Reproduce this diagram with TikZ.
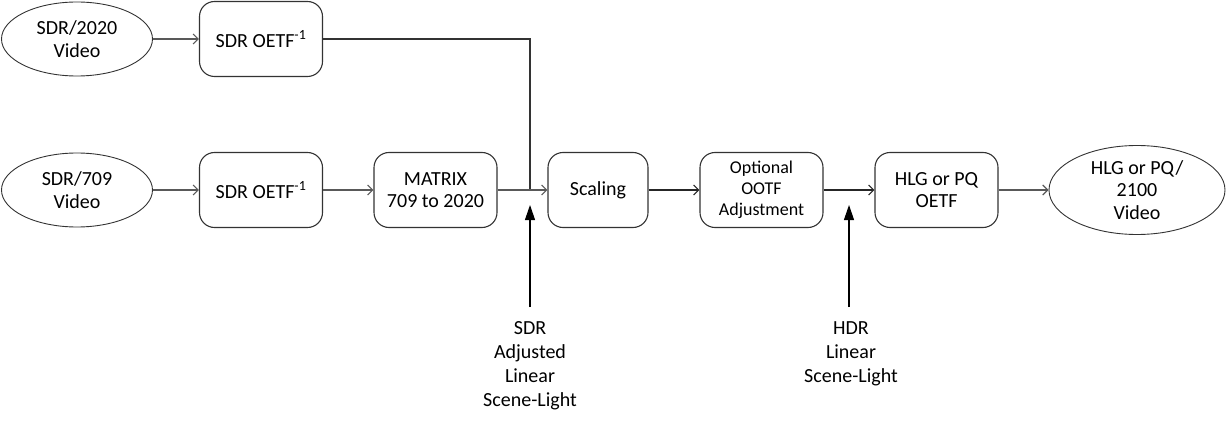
\documentclass[tikz,border=0pt]{standalone}
\usepackage{fontspec}
\setmainfont{Carlito}
\usepackage{tikz}
\usetikzlibrary{shapes.geometric,arrows.meta}

\begin{document}
\begin{tikzpicture}[x=1pt,y=-1pt,
  >={Straight Barb[length=5pt,width=10pt]},
  every node/.style={font=\fontsize{20}{22.5}\selectfont,align=center},
  stepbox/.style={draw=black!80,line width=1.1pt,rounded corners=15pt,
    minimum width=123pt,minimum height=75pt,inner sep=0pt},
  video/.style={draw=black!80,line width=0.9pt,ellipse,
    minimum width=151pt,minimum height=74pt,inner sep=0pt},
  flow/.style={->,draw=black!65,line width=1.2pt},
  tap/.style={-{Triangle[length=15pt,width=10pt]},line width=1.1pt,shorten >=15pt},
  tapnote/.style={anchor=north,inner sep=14pt,font=\fontsize{20}{24}\selectfont}]
\useasboundingbox (0,0) rectangle (1230,422);
\node[video] (V2020) at (77,39) {SDR/2020\\Video};
\node[stepbox] (OA) at (261,39) {SDR OETF\textsuperscript{-1}};
\node[video] (V709) at (77,190) {SDR/709\\Video};
\node[stepbox] (OB) at (261,190) {SDR OETF\textsuperscript{-1}};
\node[stepbox] (MX) at (435.5,190) {MATRIX\\709 to 2020};
\node[stepbox,minimum width=100pt] (SC) at (598,190) {Scaling};
\node[stepbox,font=\fontsize{18}{21}\selectfont] (OO) at (761.5,190) {Optional\\OOTF\\Adjustment};
\node[stepbox] (HP) at (936.5,190) {HLG or PQ\\OETF};
\node[video,minimum width=176pt,minimum height=89pt] (VOUT) at (1137,190) {HLG or PQ/\\2100\\Video};
\coordinate (J1) at (530,190);
\coordinate (J2) at (849,190);
\node[tapnote] (NS) at (530,307) {SDR\\Adjusted\\Linear\\Scene-Light};
\node[tapnote] (NH) at (851,307) {HDR\\Linear\\Scene-Light};
\draw[flow] (V2020) -- (OA);
\draw[draw=black!80,line width=1.1pt] (OA.east) -| (J1);
\draw[flow] (V709) -- (OB);
\draw[flow] (OB) -- (MX);
\draw[flow] (MX) -- (SC);
\draw[flow,draw=black!85] (SC) -- (OO);
\draw[flow,draw=black!85] (OO) -- (HP);
\draw[flow] (HP) -- (VOUT);
\draw[tap] (NS.north) -- (J1);
\draw[tap] (NS.north -| J2) -- (J2);
\end{tikzpicture}
\end{document}
